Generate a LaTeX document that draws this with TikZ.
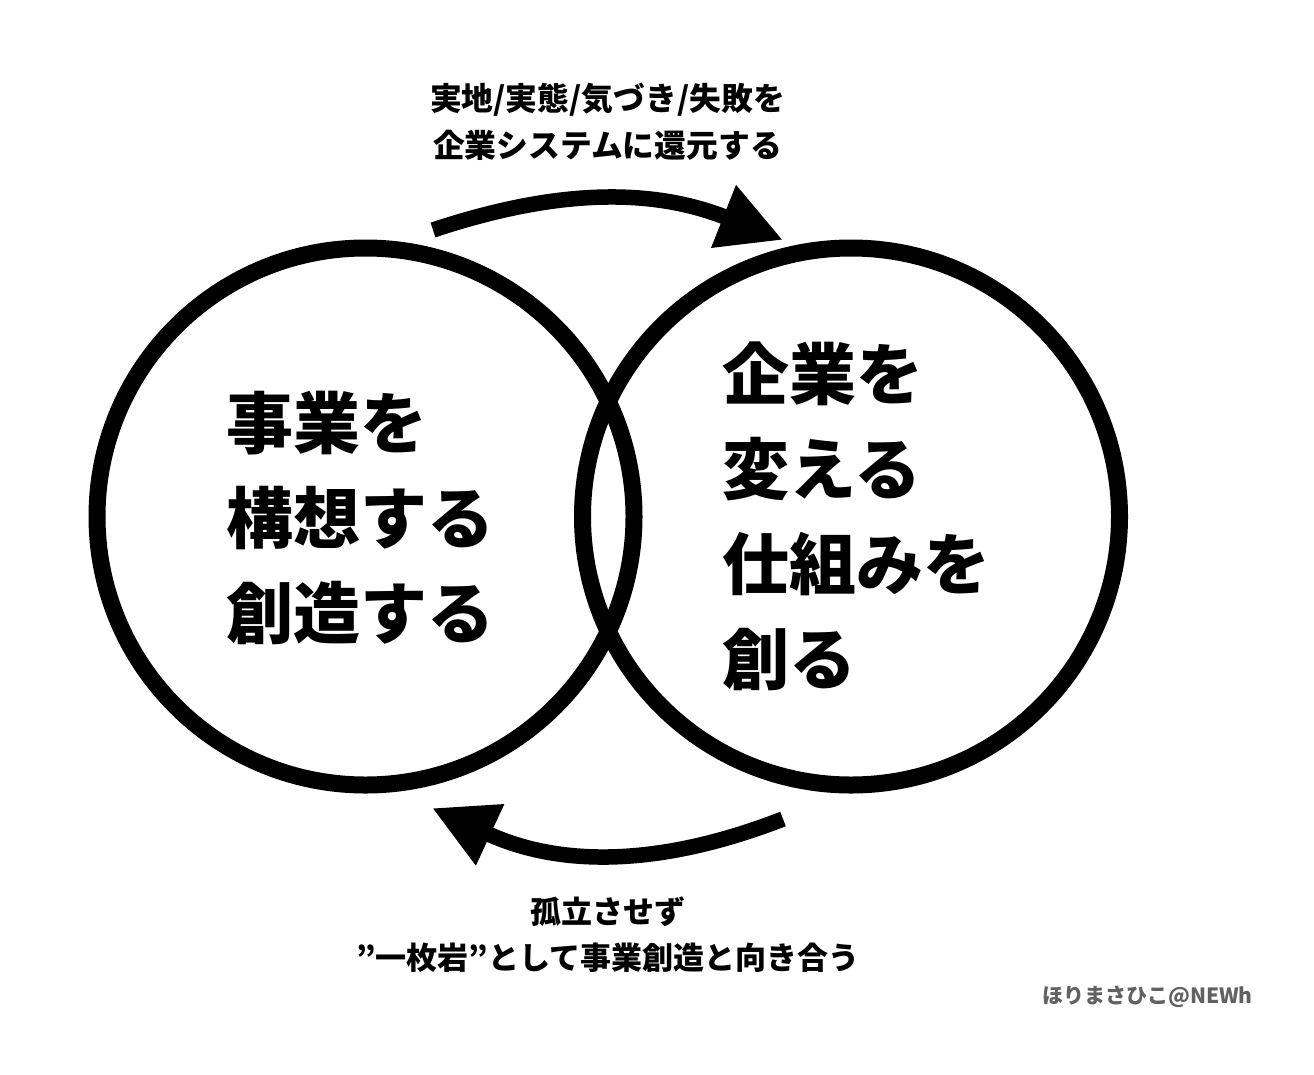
\documentclass[tikz,border=0pt]{standalone}
\usepackage{fontspec}
\setmainfont{Noto Sans CJK JP}
\usetikzlibrary{arrows.meta}
\tikzset{
  ring/.style={draw=black, line width=17pt, circle, minimum size=537pt, inner sep=0pt},
  bigtext/.style={font=\bfseries\fontsize{67}{95}\selectfont, align=left, inner sep=0pt, anchor=west},
  caption/.style={font=\bfseries\fontsize{31}{46}\selectfont, align=center, inner sep=0pt},
  credit/.style={font=\bfseries\fontsize{21}{25}\selectfont, text=black!62, inner sep=0pt, anchor=east},
  flow/.style={line width=15.5pt, -{Triangle[length=64pt,width=63pt]}},
}
\begin{document}
\begin{tikzpicture}[x=1pt,y=-1pt]
  \useasboundingbox[fill=white] (0,0) rectangle (1314,1074);
  % circles
  \node[ring] (L) at (365.5,516.5) {};
  \node[ring] (R) at (851,516.5) {};
  % circle texts
  \node[bigtext] (Ltext) at (226,518) {事業を\\構想する\\創造する};
  \node[bigtext] (Rtext) at (722,516.5) {企業を\\変える\\仕組みを\\創る};
  % arrow ends
  \coordinate (topS) at (433,230);
  \coordinate (topE) at (783,240);
  \coordinate (botS) at (783,819);
  \coordinate (botE) at (432,808);
  \draw[flow] (topS) .. controls (563,186.8) and (655.7,189.5) .. (topE);
  \draw[flow] (botS) .. controls (654.9,868.7) and (556.7,865.6) .. (botE);
  % captions
  \node[caption, font=\bfseries\fontsize{31.8}{47}\selectfont] (topcap) at (607.5,121.5) {実地/実態/気づき/失敗を\\企業システムに還元する};
  \node[caption] (botcap) at (608,934.5) {孤立させず\\”一枚岩”として事業創造と向き合う};
  \node[credit] (cred) at (1253,997) {ほりまさひこ@NEWh};
\end{tikzpicture}
\end{document}
